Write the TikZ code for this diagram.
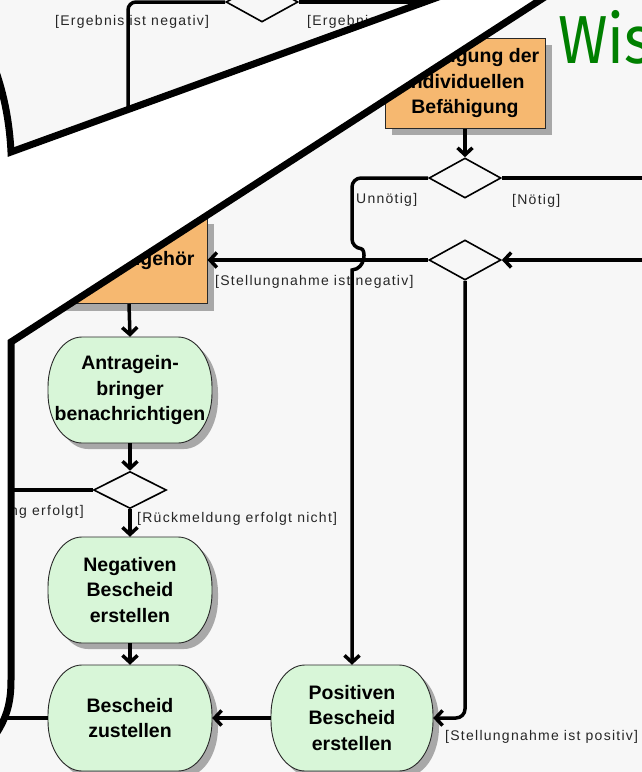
\documentclass[tikz,border=0pt]{standalone}
\usepackage{graphicx}
\usepackage{fontspec}
\setmainfont{Liberation Sans}
\newfontfamily\lblfont[LetterSpace=9]{Liberation Sans}
\newfontfamily\titlefont{Fira Sans}
\usetikzlibrary{arrows.meta,shapes.geometric,shadows}
\definecolor{bggrey}{RGB}{247,247,247}
\definecolor{actgreen}{RGB}{216,246,216}
\definecolor{boxorange}{RGB}{246,184,112}
\definecolor{shadowgrey}{RGB}{168,168,168}
\definecolor{titlegreen}{RGB}{0,128,0}
\definecolor{edgegrey}{RGB}{40,40,40}
\newcommand\nodefnt{\fontsize{19.5}{25.5}\selectfont\bfseries}
\newcommand\lblfnt{\lblfont\fontsize{14}{15}\selectfont}
% activity outline: centre x, centre y, half width
\newcommand\actpath[3]{(#1-#3+34,#2-53) -- (#1+#3-34,#2-53)
  arc[start angle=90,end angle=0,x radius=34pt,y radius=50pt] -- (#1+#3,#2+3)
  arc[start angle=0,end angle=-90,x radius=34pt,y radius=50pt] -- (#1-#3+34,#2+53)
  arc[start angle=-90,end angle=-180,x radius=34pt,y radius=50pt] -- (#1-#3,#2-3)
  arc[start angle=180,end angle=90,x radius=34pt,y radius=50pt] -- cycle}
\newcommand\actbg[3]{%
  \fill[shadowgrey] \actpath{#1+6}{#2+6}{#3};
  \filldraw[fill=actgreen, draw=edgegrey, line width=0.9pt] \actpath{#1}{#2}{#3};}
\begin{document}
\begin{tikzpicture}[x=1pt,y=-1pt,
 conn/.style={line width=3.5pt, draw=black},
 arr/.style={conn, -{Straight Barb[length=7pt,width=15pt]}},
 shad/.style={drop shadow={shadow xshift=7pt, shadow yshift=-7pt, fill=shadowgrey, opacity=1}},
 act/.style={minimum width=164pt, minimum height=106pt, align=center, inner sep=2pt, font=\nodefnt},
 obox/.style={draw=edgegrey, line width=1pt, fill=boxorange, minimum width=160pt,
   minimum height=90pt, align=center, font=\nodefnt, shad},
 dec/.style={draw=black, line width=1.6pt, fill=bggrey, shape=diamond,
   minimum width=72pt, minimum height=40pt, inner sep=0pt},
 lbl/.style={font=\lblfnt, inner sep=0pt, text=black!85},
]
\useasboundingbox (0,0) rectangle (642,772);
\clip (0,0) rectangle (642,772);
\fill[bggrey] (0,0) rectangle (642,772);

% labels
\node[lbl, anchor=west] (l1) at (55,22) {[Ergebnis ist negativ]};
\node[lbl, anchor=west] (l2) at (307,22) {[Ergebnis ist positiv]};
\node[lbl, anchor=west] (l3) at (356,200) {Unnötig]};
\node[lbl, anchor=west] (l4) at (512,201) {[Nötig]};
\node[lbl, anchor=west] (l5) at (215,282) {[Stellungnahme ist negativ]};
\node[lbl, anchor=east] (l6) at (84,512) {[Rückmeldung erfolgt]};
\node[lbl, anchor=west] (l7) at (137,519) {[Rückmeldung erfolgt nicht]};
\node[lbl, anchor=west] (l8) at (445,737) {[Stellungnahme ist positiv]};

% activity shapes
\actbg{130}{390}{82}
\actbg{130}{590}{82}
\actbg{130}{718}{82}
\actbg{352}{718}{81}

% nodes
\node[obox] (bef) at (465,83) {Bestätigung der\\individuellen\\Befähigung};
\node[obox, minimum width=156pt, minimum height=87pt] (pg) at (129,260) {Parteiengehör};
\node[act] (antrag) at (130,390) {Antragein-\\bringer\\benachrichtigen};
\node[act] (neg) at (130,590) {Negativen\\Bescheid\\erstellen};
\node[act] (zust) at (130,718) {Bescheid\\zustellen};
\node[act, minimum width=162pt] (pos) at (352,718) {Positiven\\Bescheid\\erstellen};
\node[dec] (d1) at (262,2) {};
\node[dec] (d2) at (465,178) {};
\node[dec] (d3) at (465,260) {};
\node[dec, minimum width=73pt, minimum height=37pt] (d4) at (130,490) {};

% free ends
\coordinate (topv) at (128,220);
\coordinate (topr) at (460,2);
\coordinate (rout) at (660,178);
\coordinate (rin) at (660,260);
\coordinate (hopT) at (352,248);
\coordinate (hopB) at (352,270);
\coordinate (leftd4) at (5,490);
\coordinate (leftz) at (0,718);

% connectors
\draw[conn, rounded corners=8pt] (d1.west) -| (topv);
\draw[conn] (d1.east) -- (topr);
\draw[arr] (bef.south) -- (d2.north);
\draw[conn] (d2.east) -- (rout);
\draw[arr] (rin) -- (d3.east);
\draw[arr] (d3.west) -- (pg.east);
\draw[arr] (d2.west) [rounded corners=9pt] -| (hopT) [sharp corners]
  .. controls (366,249) and (366,269) .. (hopB) -- (pos.north);
\draw[arr, rounded corners=9pt] (d3.south) |- (pos.east);
\draw[arr] (pg.south) -- (antrag.north);
\draw[arr] (antrag.south) -- (d4.north);
\draw[conn] (d4.west) -- (leftd4);
\draw[arr] (d4.south) -- (neg.north);
\draw[arr] (neg.south) -- (zust.north);
\draw[arr] (pos.west) -- (zust.east);
\draw[conn] (zust.west) -- (leftz);

% callout bubble
\filldraw[fill=white, draw=black, line width=7pt, line join=miter]
  (-30,20) .. controls (-2,60) and (9,110) .. (11,152) -- (681,-91) -- (11,342) -- (11,680)
  .. controls (11,705) and (6,720) .. (-8,740) -- (-60,740) -- (-60,20) -- cycle;

% title
\node[anchor=base west, inner sep=0pt, text=titlegreen] (title) at (558,63)
  {\titlefont\fontsize{68}{68}\selectfont\scalebox{0.88}[1]{Wis}};
\end{tikzpicture}
\end{document}
